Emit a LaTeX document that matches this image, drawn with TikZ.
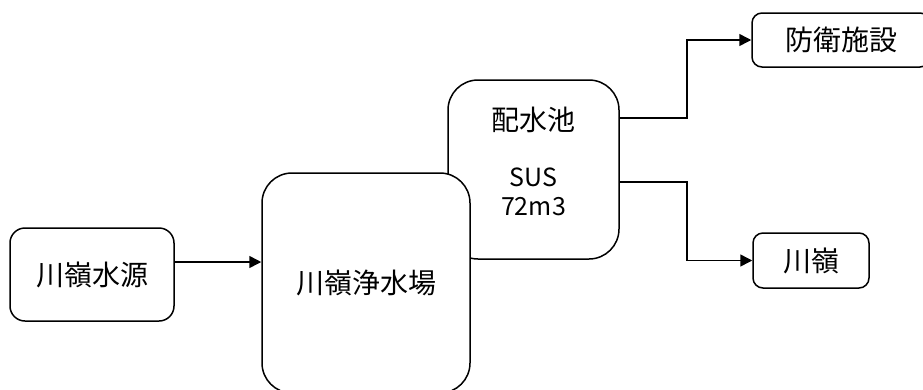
\documentclass[tikz,border=0pt]{standalone}
\usepackage{fontspec}
\setmainfont{Noto Sans CJK JP}
\usepackage{tikz}
\usetikzlibrary{arrows.meta, positioning}
\newcommand{\specfont}{\fontsize{25pt}{29pt}\selectfont}

\begin{document}
\begin{tikzpicture}[x=1pt, y=-1pt]
\tikzset{edge/.style = {-{Triangle[length=12pt, width=12pt]}, line width=1.5pt}}
\tikzset{box/.style = {draw, line width=1.5pt, fill=white, inner sep=0pt, align=center,
    font=\fontsize{28pt}{34pt}\selectfont}}
\useasboundingbox (0,0) rectangle (923,389);
\clip (0,0) rectangle (923,389);
            % vertices
	\node[box, minimum width=164pt, minimum height=93pt, rounded corners=15pt] (src) at (92,274.5) {川嶺水源};
	\node[box, minimum width=171pt, minimum height=179pt, rounded corners=30pt, text depth=16pt] (tank) at (533.5,169.5)
	    {配水池\\[22pt]\specfont SUS\\[-5pt]\specfont 72m3};
	\node[box, minimum width=208pt, minimum height=220pt, rounded corners=30pt] (plant) at (366,283) {川嶺浄水場};
	\node[box, minimum width=178pt, minimum height=54pt, rounded corners=10pt] (def) at (841,40) {防衛施設};
	\node[box, minimum width=116pt, minimum height=55pt, rounded corners=10pt] (kawa) at (811,260.5) {川嶺};
            %edges
	\draw[edge] ([yshift=12.5pt]src.east) -- ([yshift=12.5pt]src.east -| plant.west);
	\draw[edge] ([yshift=51.5pt]tank.east) -- ++(67,0) |- (def.west);
	\draw[edge] ([yshift=-12.5pt]tank.east) -- ++(67,0) |- (kawa.west);
\end{tikzpicture}
\end{document}
